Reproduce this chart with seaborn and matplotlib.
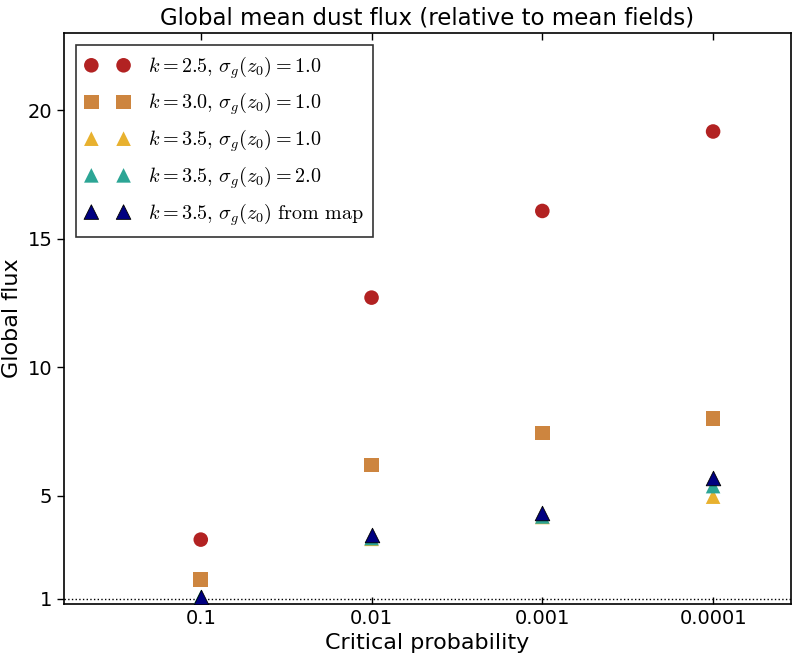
import matplotlib
matplotlib.use("Agg")
import matplotlib.pyplot as plt
import seaborn as sns
import pandas as pd

sns.set_style("white")
plt.rcParams["mathtext.fontset"] = "cm"
plt.rcParams["font.family"] = ["DejaVu Sans"]
plt.rcParams["text.color"] = "black"
plt.rcParams["axes.labelcolor"] = "black"
plt.rcParams["xtick.color"] = "black"
plt.rcParams["ytick.color"] = "black"

categories = ["0.1", "0.01", "0.001", "0.0001"]
red_k25 = [3.30, 12.71, 16.08, 19.17]
orange_k30 = [1.74, 6.20, 7.45, 8.00]
yellow_k35 = [1.02, 3.33, 4.18, 4.97]
teal_k35_s2 = [1.05, 3.36, 4.20, 5.38]
navy_k35_map = [1.08, 3.48, 4.34, 5.70]

labels = [
    r"$k=2.5,\,\sigma_g(z_0)=1.0$",
    r"$k=3.0,\,\sigma_g(z_0)=1.0$",
    r"$k=3.5,\,\sigma_g(z_0)=1.0$",
    r"$k=3.5,\,\sigma_g(z_0)=2.0$",
    r"$k=3.5,\,\sigma_g(z_0)\ \mathrm{from\ map}$",
]
series = [red_k25, orange_k30, yellow_k35, teal_k35_s2, navy_k35_map]
colors = ["#B22222", "#CD853F", "#E8B12F", "#2CA595", "#000080"]
markers = ["o", "s", "^", "^", "^"]
edges = ["none", "none", "none", "none", "black"]

fig, ax = plt.subplots(figsize=(7.92, 6.6), dpi=100)
fig.subplots_adjust(left=0.081, right=0.9987, bottom=0.085, top=0.95)

xpos = list(range(len(categories)))
for vals, lab, col, mk, ec in zip(series, labels, colors, markers, edges):
    df = pd.DataFrame({"x": xpos, "y": vals})
    sns.scatterplot(data=df, x="x", y="y", ax=ax, color=col, marker=mk,
                    s=110, edgecolor=ec, linewidth=0.6 if ec != "none" else 0,
                    label=lab, zorder=3)

ax.axhline(1.0, color="black", linestyle=":", linewidth=1.0, zorder=1)

ax.set_xlim(-0.8, 3.456)
ax.set_ylim(0.8, 23.0)
ax.set_xticks(xpos)
ax.set_xticklabels(categories)
ax.set_yticks([1, 5, 10, 15, 20])
ax.set_yticklabels(["1", "5", "10", "15", "20"])
ax.tick_params(axis="x", direction="in", top=True, bottom=True, length=5,
               width=1, labelsize=14)
ax.tick_params(axis="y", direction="out", left=True, right=False, length=5,
               width=1, labelsize=14)
for sp in ax.spines.values():
    sp.set_visible(True)
    sp.set_color("black")
    sp.set_linewidth(1.2)

ax.set_xlabel("Critical probability", fontsize=16)
ax.set_ylabel("Global flux", fontsize=16)
ax.set_title("Global mean dust flux (relative to mean fields)", fontsize=16.5)

leg = ax.legend(loc="upper left", scatterpoints=2, scatteryoffsets=[0.5, 0.5],
                fontsize=14.5, frameon=True, fancybox=False, edgecolor="black",
                borderpad=0.45, labelspacing=0.5, handletextpad=0.9,
                borderaxespad=0.6, handlelength=2.2)
leg.get_frame().set_linewidth(1.2)

fig.savefig("out.png", dpi=100)
